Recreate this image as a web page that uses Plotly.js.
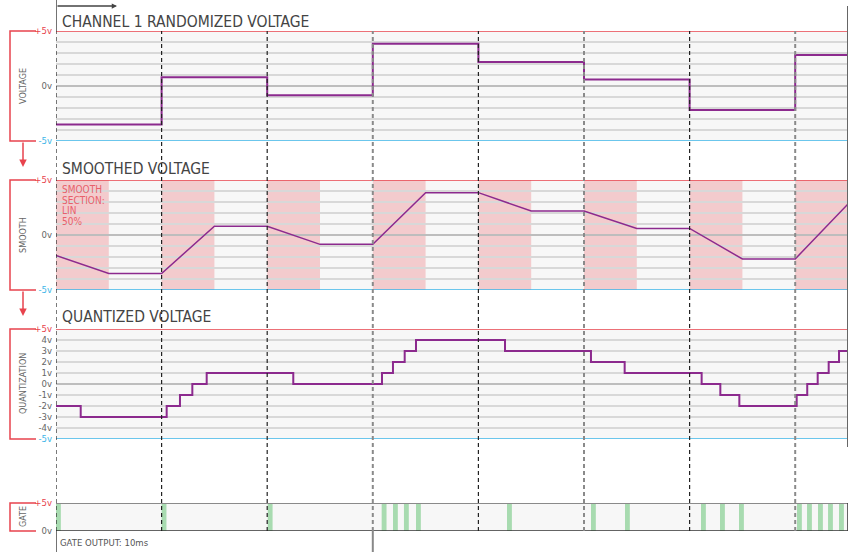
<!DOCTYPE html>
<html><head><meta charset="utf-8">
<script src="https://cdn.plot.ly/plotly-3.0.1.min.js"></script>
<style>html,body{margin:0;padding:0;background:#fff}#chart{width:857px;height:552px}</style>
</head><body><div id="chart"></div>
<script>
// ---------- data ----------
const STEP_TIMES = [0, 1, 2, 3, 4, 5, 6, 7];
const END_TIME = 7.5;
const CH1_VOLTAGE = [-3.5, 0.8, -0.85, 3.85, 2.18, 0.6, -2.18, 2.82];
const SMOOTH_TIMES = [0, 0.5, 1, 1.5, 2, 2.5, 3, 3.5, 4, 4.5, 5, 5.5, 6, 6.5, 7, 7.5];
const SMOOTH_VOLTAGE = [-1.85, -3.5, -3.5, 0.8, 0.8, -0.85, -0.85, 3.85, 3.85, 2.18, 2.18, 0.6, 0.6, -2.18, -2.18, 2.82];
const SMOOTH_SECTION_LEN = 0.5;
const QUANT_TIMES = [0, 0.234, 1.048, 1.174, 1.291, 1.427, 2.247, 3.087, 3.191, 3.302, 3.409, 4.252, 5.066, 5.385, 6.114, 6.291, 6.471, 7.014, 7.114, 7.213, 7.317, 7.415, 7.5];
const QUANT_VOLTAGE = [-2, -3, -2, -1, 0, 1, 0, 1, 2, 3, 4, 3, 2, 1, 0, -1, -2, -1, 0, 1, 2, 3, 3];
const GATE_TIMES = [0, 1.0, 2.005, 3.084, 3.191, 3.295, 3.409, 4.271, 5.066, 5.388, 6.108, 6.288, 6.468, 7.017, 7.112, 7.216, 7.311, 7.415];
const GATE_LENGTH = 0.046;
const GATE_HIGH = 5;
const PANEL_TITLES = ['CHANNEL 1 RANDOMIZED VOLTAGE', 'SMOOTHED VOLTAGE', 'QUANTIZED VOLTAGE'];
const PANEL_LABELS = ['VOLTAGE', 'SMOOTH', 'QUANTIZATION', 'GATE'];
const SMOOTH_NOTE = ['SMOOTH', 'SECTION:', 'LIN', '50%'];
const GATE_NOTE = 'GATE OUTPUT: 10ms';
const QUANT_TICKS = [-5, -4, -3, -2, -1, 0, 1, 2, 3, 4, 5];
const QUANT_TICKTEXT = ['-5v', '-4v', '-3v', '-2v', '-1v', '0v', '1v', '2v', '3v', '4v', '+5v'];

// ---------- style / layout ----------
const W = 857, H = 552;
const px = x => x / W;
const py = y => 1 - y / H;
const F = '"Liberation Sans Narrow", "DejaVu Sans Condensed", "Roboto Condensed", Roboto, sans-serif';
const RED = '#e8434d', BLUE = '#3db6e8', PURPLE = '#8c2a8e', GRAY = '#666';
const PANELS = [[31, 141], [180, 290], [329, 439], [503, 531]];
const TITLE_Y = [21.5, 169, 317];
const col = (c, t) => '<span style="color:' + c + '">' + t + '</span>';

function yax(p, tickvals, ticktext) {
  return {
    domain: [py(PANELS[p][1]), py(PANELS[p][0])], anchor: 'x', range: [-5, 5],
    tickvals: tickvals, ticktext: ticktext, showgrid: true, gridcolor: '#d8d8d8', gridwidth: 1.5,
    zeroline: true, zerolinecolor: '#bdbdbd', zerolinewidth: 2, showline: false, ticks: '', ticklabelstandoff: 3,
    tickfont: {family: F, size: 9.5, color: GRAY}, fixedrange: true
  };
}
const basicText = QUANT_TICKS.map(v => v === 5 ? col(RED, '+5v') : v === -5 ? col(BLUE, '-5v') : v === 0 ? '0v' : '');
const quantText = QUANT_TICKTEXT.map((t, i) => QUANT_TICKS[i] === 5 ? col(RED, t) : QUANT_TICKS[i] === -5 ? col(BLUE, t) : t);

const traces = [
  {x: STEP_TIMES.concat([END_TIME]), y: CH1_VOLTAGE.concat([CH1_VOLTAGE[CH1_VOLTAGE.length - 1]]), xaxis: 'x', yaxis: 'y',
   mode: 'lines', line: {shape: 'hv', color: PURPLE, width: 2}},
  {x: SMOOTH_TIMES, y: SMOOTH_VOLTAGE, xaxis: 'x', yaxis: 'y2', mode: 'lines', line: {color: PURPLE, width: 1.5}},
  {x: QUANT_TIMES, y: QUANT_VOLTAGE, xaxis: 'x', yaxis: 'y3', mode: 'lines', line: {shape: 'hv', color: PURPLE, width: 2}},
  {type: 'bar', x: GATE_TIMES, y: GATE_TIMES.map(() => GATE_HIGH), width: GATE_LENGTH, offset: 0, xaxis: 'x', yaxis: 'y4',
   marker: {color: '#a8dbb0', line: {width: 0}}}
];

const shapes = [];
// smooth sections
STEP_TIMES.forEach(t => shapes.push({type: 'rect', xref: 'x', yref: 'y2', x0: t, x1: t + SMOOTH_SECTION_LEN, y0: -5, y1: 5,
  fillcolor: '#f3cbcd', line: {width: 0}, layer: 'below'}));
// +5 / -5 reference lines
['y', 'y2', 'y3'].forEach(ax => {
  shapes.push({type: 'line', xref: 'x', yref: ax, x0: 0, x1: END_TIME, y0: 5, y1: 5, line: {color: RED, width: 1.5}});
  shapes.push({type: 'line', xref: 'x', yref: ax, x0: 0, x1: END_TIME, y0: -5, y1: -5, line: {color: BLUE, width: 1.5}});
});
// gate panel borders
shapes.push({type: 'line', xref: 'x', yref: 'y4', x0: 0, x1: END_TIME, y0: 5, y1: 5, line: {color: '#8a8a8a', width: 2}});
shapes.push({type: 'line', xref: 'x', yref: 'y4', x0: 0, x1: END_TIME, y0: 0, y1: 0, line: {color: '#333', width: 1.5}});
shapes.push({type: 'line', xref: 'x', yref: 'y4', x0: END_TIME, x1: END_TIME, y0: 0, y1: 5, line: {color: '#333', width: 1.5}});
// step dashed lines
STEP_TIMES.forEach((t, i) => {
  const g = (i === 3 || i === 5 || i === 7);
  shapes.push({type: 'line', xref: 'x', yref: 'paper', x0: t, x1: t, y0: py(531), y1: py(31),
    line: {color: g ? '#8a8a8a' : '#222', width: g ? 2 : 1.2, dash: '4px,3px'}});
});
// time axis (top-left) and right edge
shapes.push({type: 'line', xref: 'x', yref: 'paper', x0: 0, x1: 0, y0: py(31), y1: 1, line: {color: '#444', width: 1.5}});
shapes.push({type: 'line', xref: 'x', yref: 'paper', x0: END_TIME, x1: END_TIME, y0: py(447), y1: py(6), line: {color: '#666', width: 2}});
// gate output bracket
shapes.push({type: 'line', xref: 'x', yref: 'paper', x0: 0, x1: 0, y0: 0, y1: py(531), line: {color: '#444', width: 1.5}});
shapes.push({type: 'line', xref: 'x', yref: 'paper', x0: STEP_TIMES[3], x1: STEP_TIMES[3], y0: 0, y1: py(531), line: {color: '#888', width: 2}});
// left brackets
PANELS.forEach(p => {
  shapes.push({type: 'path', xref: 'paper', yref: 'paper',
    path: 'M' + px(36) + ',' + py(p[0]) + ' H' + px(10) + ' V' + py(p[1]) + ' H' + px(36),
    line: {color: RED, width: 1.5}});
});

const annotations = [];
PANEL_TITLES.forEach((t, i) => annotations.push({xref: 'paper', yref: 'paper', x: px(60), y: py(TITLE_Y[i]), xanchor: 'left', yanchor: 'middle',
  text: t, showarrow: false, font: {family: F, size: 15.5, color: '#444'}}));
PANEL_LABELS.forEach((t, i) => annotations.push({xref: 'paper', yref: 'paper', x: px(23), y: py((PANELS[i][0] + PANELS[i][1]) / 2),
  xanchor: 'center', yanchor: 'middle', text: t, textangle: -90, showarrow: false, font: {family: F, size: 9, color: GRAY}}));
SMOOTH_NOTE.forEach((t, i) => annotations.push({xref: 'paper', yref: 'paper', x: px(60), y: py(189.5 + i * 10.5), xanchor: 'left', yanchor: 'middle',
  text: t, showarrow: false, font: {family: F, size: 10, color: '#e8606a'}}));
annotations.push({xref: 'paper', yref: 'paper', x: px(58), y: py(542), xanchor: 'left', yanchor: 'middle', text: GATE_NOTE,
  showarrow: false, font: {family: F, size: 9.5, color: '#555'}});
// arrows between panels
[0, 1].forEach(i => annotations.push({xref: 'paper', yref: 'paper', x: px(23), y: py(PANELS[i][1] + 26), ax: 0, ay: -26,
  text: '', showarrow: true, arrowhead: 2, arrowsize: 1, arrowwidth: 1.5, arrowcolor: RED}));
// time arrow
annotations.push({xref: 'paper', yref: 'paper', x: px(117), y: py(6), ax: -61, ay: 0, text: '', showarrow: true,
  arrowhead: 2, arrowsize: 0.7, arrowwidth: 1.5, arrowcolor: '#444'});

const layout = {
  width: W, height: H, margin: {l: 0, r: 0, t: 0, b: 0}, paper_bgcolor: '#fff', plot_bgcolor: '#f7f7f7',
  showlegend: false, hovermode: false, font: {family: F},
  xaxis: {domain: [px(56), px(848)], range: [0, END_TIME], visible: false, fixedrange: true, anchor: 'y4'},
  yaxis: yax(0, QUANT_TICKS, basicText),
  yaxis2: yax(1, QUANT_TICKS, basicText),
  yaxis3: yax(2, QUANT_TICKS, quantText),
  yaxis4: {domain: [py(531), py(503)], anchor: 'x', range: [0, 5], tickvals: [0, 5], ticktext: ['0v', col(RED, '+5v')],
    showgrid: false, zeroline: false, showline: false, ticks: '', ticklabelstandoff: 3, tickfont: {family: F, size: 9.5, color: GRAY}, fixedrange: true},
  shapes: shapes, annotations: annotations
};
Plotly.newPlot('chart', traces, layout, {displayModeBar: false, staticPlot: true});
</script></body></html>
